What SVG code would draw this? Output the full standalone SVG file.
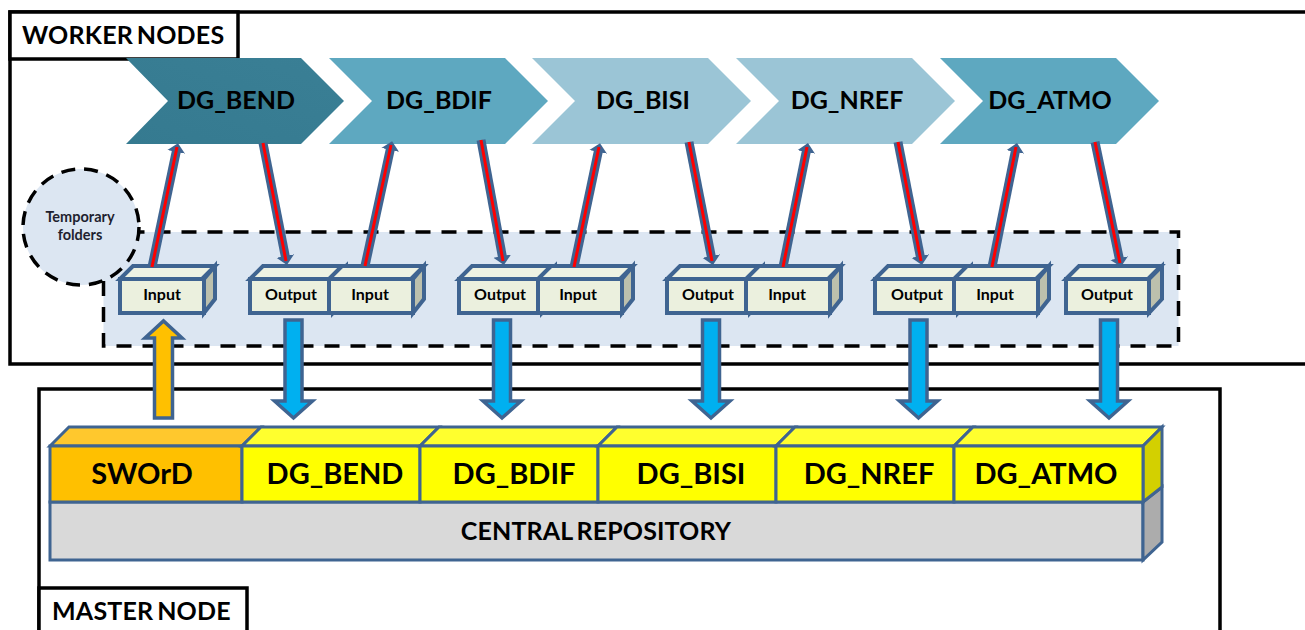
<svg xmlns="http://www.w3.org/2000/svg" width="1305" height="630" viewBox="0 0 1305 630">
<style>
text{font-family:"Lato","Open Sans","Liberation Sans",sans-serif;font-weight:700;fill:#000;text-anchor:middle}
.frame{fill:#fff;stroke:#000;stroke-width:3.5}
.ttl{font-size:25px;text-anchor:start;word-spacing:-2.5px;letter-spacing:.2px}
.chev{font-size:25px}
.b{fill:#ebf0de;stroke:#3f6491;stroke-width:4}
.bt{fill:#eef2e3;stroke:#3f6491;stroke-width:4}
.bs{fill:#bcc0ad;stroke:#3f6491;stroke-width:4}
.bl{font-size:16px}
.rep{stroke:#3f6491;stroke-width:3}
.rl{font-size:29px}
.rb{font-size:25px;word-spacing:-2.5px;letter-spacing:.15px}
.ln1{stroke:#3f6491;stroke-width:9;fill:none}
.ln2{stroke:#f00;stroke-width:3;fill:none}
.blk{stroke:#3f6491;stroke-width:3.5;stroke-miterlimit:3}
.tf{font-size:14.5px;fill:#1f1f2f}
</style>
<defs>
<marker id="ah" markerUnits="userSpaceOnUse" markerWidth="20" markerHeight="20" refX="3" refY="9" orient="auto"><path d="M0,0L9,9L0,18z" fill="#3f6491"/></marker>
<g id="box"><path class="bt" d="M0,13L13,0H95L82,13z"/><path class="bs" d="M84,13L95,0V33L84,47z"/><rect class="b" width="84" height="34" y="13"/></g>
<g id="obox"><path class="bt" d="M0,13L13,0H95L82,13z"/><path class="bs" d="M83,13L96,0V33L83,47z"/><rect class="b" width="83" height="34" y="13"/></g>
<path id="down" class="blk" fill="#00b0f0" d="M-8.5,0H8.5V81H19L0,98L-19,81H-8.5z"/>
</defs>

<g id="worker-nodes">
<rect class="frame" x="10" y="12" width="1300" height="352"/>
<rect class="frame" x="10" y="12" width="228" height="47"/>
<text class="ttl" x="22" y="44">WORKER NODES</text>
</g>
<g id="temp-area">
<rect x="103.500" y="232" width="1075" height="114" fill="#dce6f2" stroke="#000" stroke-width="3.5" stroke-dasharray="15 11"/>
</g>
<g id="temporary-folders">
<circle cx="81" cy="227" r="58" fill="#dce6f2" stroke="#000" stroke-width="3.5" stroke-dasharray="14 9"/>
<text class="tf" x="80" y="222">Temporary</text>
<text class="tf" x="80" y="240">folders</text>
</g>
<g id="master-node">
<path class="frame" d="M39,632V389H1220V632"/>
<path class="frame" d="M39,632V588H247V632"/>
<text class="ttl" x="52" y="620">MASTER NODE</text>
</g>

<g id="chev-bend"><linearGradient id="g1" x1="0" x2="1" y1="1" y2="0"><stop offset="0" stop-color="#357a90"/><stop offset="1" stop-color="#3a7f95"/></linearGradient><path d="M126,58H301L344,101L301,144H126L168,101z" fill="url(#g1)"/><text class="chev" x="236" y="109">DG_BEND</text></g>
<g id="chev-bdif"><path d="M329,58H505L548,101L505,144H329L372,101z" fill="#5ea8c0"/><text class="chev" x="439" y="109">DG_BDIF</text></g>
<g id="chev-bisi"><path d="M532,58H708L751,101L708,144H532L575,101z" fill="#9bc5d6"/><text class="chev" x="643" y="109">DG_BISI</text></g>
<g id="chev-nref"><path d="M736,58H912L955,101L912,144H736L779,101z" fill="#9bc5d6"/><text class="chev" x="847" y="109">DG_NREF</text></g>
<g id="chev-atmo"><path d="M940,58H1116L1159,101L1116,144H940L983,101z" fill="#5ea8c0"/><text class="chev" x="1050" y="109">DG_ATMO</text></g>

<g id="boxes">
<g id="in1"><use href="#box" x="120" y="266"/><text class="bl" x="162" y="300">Input</text></g>
<g id="out1"><use href="#obox" x="250" y="266"/><text class="bl" x="291" y="300">Output</text></g>
<g id="in2"><use href="#box" x="329" y="266"/><text class="bl" x="370" y="300">Input</text></g>
<g id="out2"><use href="#obox" x="459" y="266"/><text class="bl" x="500" y="300">Output</text></g>
<g id="in3"><use href="#box" x="538" y="266"/><text class="bl" x="578" y="300">Input</text></g>
<g id="out3"><use href="#obox" x="667" y="266"/><text class="bl" x="708" y="300">Output</text></g>
<g id="in4"><use href="#box" x="746" y="266"/><text class="bl" x="787" y="300">Input</text></g>
<g id="out4"><use href="#obox" x="875" y="266"/><text class="bl" x="917" y="300">Output</text></g>
<g id="in5"><use href="#box" x="954" y="266"/><text class="bl" x="995" y="300">Input</text></g>
<g id="out5"><use href="#obox" x="1066" y="266"/><text class="bl" x="1107" y="300">Output</text></g>
</g>

<g id="connectors">
<g class="ln1">
<path d="M152,267L176.800,149" marker-end="url(#ah)"/><path d="M263,143L285.800,259" marker-end="url(#ah)"/>
<path d="M365,266L390.800,147" marker-end="url(#ah)"/><path d="M481,140L502.800,259" marker-end="url(#ah)"/>
<path d="M574,267L598.800,149" marker-end="url(#ah)"/><path d="M689,142L711.800,259" marker-end="url(#ah)"/>
<path d="M783,267L806.800,149" marker-end="url(#ah)"/><path d="M898,142L920.800,259" marker-end="url(#ah)"/>
<path d="M992,267L1015.800,149" marker-end="url(#ah)"/><path d="M1095,142L1119.800,261" marker-end="url(#ah)"/>
</g>
<g class="ln2">
<path d="M152,267L177,147"/><path d="M263,143L286,261"/>
<path d="M365,266L391,145"/><path d="M481,140L503,261"/>
<path d="M574,267L599,147"/><path d="M689,142L712,261"/>
<path d="M783,267L807,147"/><path d="M898,142L921,261"/>
<path d="M992,267L1016,147"/><path d="M1095,142L1120,263"/>
</g>
<path class="blk" fill="#ffc000" d="M154.500,418V338H145L163.500,321L182,338H172.500V418z"/>
<use href="#down" x="293.500" y="320"/>
<use href="#down" x="502" y="320"/>
<use href="#down" x="711" y="320"/>
<use href="#down" x="918.500" y="320"/>
<use href="#down" x="1109" y="320"/>
</g>

<g id="central-repository">
<path class="rep" fill="#d9d9d9" d="M50,502H1143V560H50z"/>
<path class="rep" fill="#acacac" d="M1143,502L1162,487V542L1143,560z"/>
<text class="rb" x="596" y="540">CENTRAL REPOSITORY</text>
</g>
<g id="rep-sword"><path class="rep" fill="#ffc82d" d="M50,446L69,427H261L242,446z"/><rect class="rep" fill="#ffc000" x="50" y="446" width="192" height="56"/><text class="rl" x="142" y="484">SWOrD</text></g>
<g id="rep-bend"><path class="rep" fill="#ffff2e" d="M242,446L261,427H439L420,446z"/><rect class="rep" fill="#ffff00" x="242" y="446" width="178" height="56"/><text class="rl" x="335" y="484">DG_BEND</text></g>
<g id="rep-bdif"><path class="rep" fill="#ffff2e" d="M420,446L439,427H617L598,446z"/><rect class="rep" fill="#ffff00" x="420" y="446" width="178" height="56"/><text class="rl" x="514" y="484">DG_BDIF</text></g>
<g id="rep-bisi"><path class="rep" fill="#ffff2e" d="M598,446L617,427H795L776,446z"/><rect class="rep" fill="#ffff00" x="598" y="446" width="178" height="56"/><text class="rl" x="691" y="484">DG_BISI</text></g>
<g id="rep-nref"><path class="rep" fill="#ffff2e" d="M776,446L795,427H973L954,446z"/><rect class="rep" fill="#ffff00" x="776" y="446" width="178" height="56"/><text class="rl" x="869" y="484">DG_NREF</text></g>
<g id="rep-atmo"><path class="rep" fill="#ffff2e" d="M954,446L973,427H1162L1143,446z"/><path class="rep" fill="#d3d000" d="M1143,446L1162,427V487L1143,502z"/><rect class="rep" fill="#ffff00" x="954" y="446" width="189" height="56"/><text class="rl" x="1046" y="484">DG_ATMO</text></g>
</svg>
